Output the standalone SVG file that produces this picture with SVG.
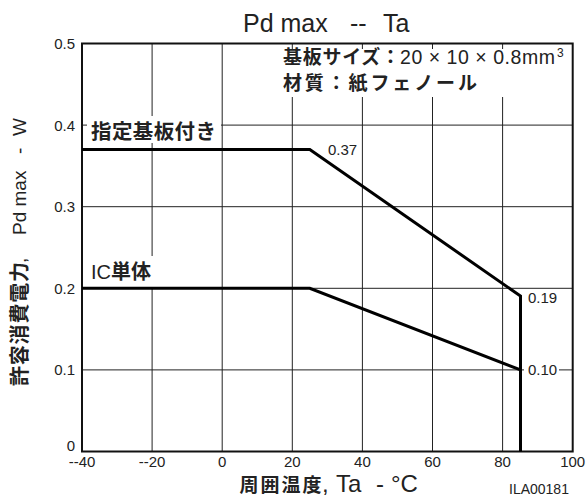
<svg xmlns="http://www.w3.org/2000/svg" width="586" height="497" viewBox="0 0 586 497">
<style>
.grid{stroke:#222;stroke-width:1;fill:none}
.frame{stroke:#111;stroke-width:2;fill:none}
.curve{stroke:#000;stroke-width:3;fill:none;stroke-linejoin:miter}
.num{font-family:"Liberation Sans",Arial,sans-serif;font-size:15px;fill:#222}
.jp{font-family:"Noto Sans CJK JP",sans-serif;font-weight:700;fill:#222}
.lat{font-family:"Liberation Sans",Arial,sans-serif;fill:#222}
.bg{fill:#fff}
</style>
<rect width="586" height="497" fill="#fff"/>
<g id="grid">
<path class="grid" d="M152.1 43.5V451.5M222.2 43.5V451.5M292.3 43.5V451.5M362.4 43.5V451.5M432.5 43.5V451.5M502.6 43.5V451.5"/>
<path class="grid" d="M82 125.1H572.7M82 206.7H572.7M82 288.3H572.7M82 369.9H572.7"/>
<rect class="frame" x="82" y="43.5" width="490.7" height="408"/>
</g>
<g id="label-backgrounds">
<rect class="bg" x="282" y="49" width="289" height="48"/>
<rect class="bg" x="87" y="116" width="134" height="27"/>
<rect class="bg" x="88" y="256" width="70" height="31"/>
<rect class="bg" x="524" y="362" width="35" height="15"/>
</g>
<g id="connectors">
<polyline id="curve-board" class="curve" points="82,149.6 309.8,149.6 520.5,296 520.5,451.5"/>
<polyline id="curve-ic" class="curve" points="82,288.3 309.8,288.3 520.5,369.9"/>
</g>
<g id="title">
<text class="lat" font-size="25" x="243" y="31.5">Pd max</text>
<text class="lat" font-size="25" x="350" y="31.5">--</text>
<text class="lat" font-size="25" x="383" y="31.5">Ta</text>
</g>
<g id="y-ticks" class="num" text-anchor="end">
<text x="75" y="48.5">0.5</text>
<text x="75" y="130.5">0.4</text>
<text x="75" y="212">0.3</text>
<text x="75" y="293.5">0.2</text>
<text x="75" y="375">0.1</text>
<text x="75" y="451">0</text>
</g>
<g id="x-ticks" class="num" text-anchor="middle">
<text x="82" y="466.5">--40</text>
<text x="152.1" y="466.5">--20</text>
<text x="222.2" y="466.5">0</text>
<text x="292.3" y="466.5">20</text>
<text x="362.4" y="466.5">40</text>
<text x="432.5" y="466.5">60</text>
<text x="502.6" y="466.5">80</text>
<text x="572.7" y="466.5">100</text>
</g>
<g id="spec-label">
<text class="jp" font-size="19" x="283" y="64" textLength="117">基板サイズ：</text>
<text class="lat" font-size="19.5" x="400" y="64" textLength="155">20 × 10 × 0.8mm</text>
<text class="lat" font-size="12" x="557" y="57">3</text>
<text class="jp" font-size="19" x="283" y="90" textLength="194">材質：紙フェノール</text>
</g>
<g id="label-board">
<text class="jp" font-size="20.5" x="91" y="139" textLength="125">指定基板付き</text>
</g>
<g id="label-ic">
<text class="jp" font-size="20" x="91" y="279"><tspan class="lat" font-weight="400">IC</tspan>単体</text>
</g>
<g id="value-labels" class="num">
<text x="328" y="155">0.37</text>
<text x="528" y="303">0.19</text>
<text x="528" y="375">0.10</text>
</g>
<g id="x-axis-label">
<text class="jp" font-size="19" x="239.5" y="491.5" textLength="82">周囲温度</text>
<text class="lat" font-size="24" x="322" y="491.5">,</text>
<text class="lat" font-size="24" x="336" y="491.5">Ta</text>
<text class="lat" font-size="24" x="376" y="491.5">-</text>
<text class="lat" font-size="24" x="391" y="491.5">°C</text>
</g>
<g id="y-axis-label">
<text class="jp" font-size="20" transform="translate(27,386) rotate(-90)" textLength="124">許容消費電力</text>
<text class="lat" font-size="19" transform="translate(26,263) rotate(-90)">,</text>
<text class="lat" font-size="19" transform="translate(26,235) rotate(-90)">Pd max</text>
<text class="lat" font-size="19" transform="translate(26,154) rotate(-90)">-</text>
<text class="lat" font-size="19" transform="translate(26,136) rotate(-90)">W</text>
</g>
<g id="code">
<text class="lat" font-size="14" x="509" y="494">ILA00181</text>
</g>
</svg>
